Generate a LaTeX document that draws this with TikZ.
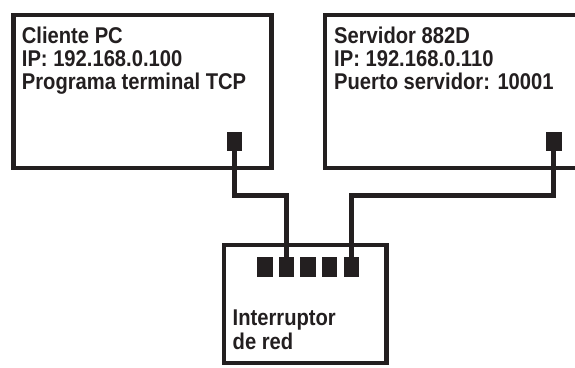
\documentclass[tikz,border=0pt]{standalone}
\usepackage{fontspec}
\setmainfont{Liberation Sans}[FakeStretch=0.885]
\definecolor{ink}{RGB}{35,31,32}
\begin{document}
\begin{tikzpicture}[x=1pt,y=-1pt,
  frame/.style={draw=ink, line width=4.8pt, inner sep=0pt, outer sep=0pt},
  portbox/.style={fill=ink, inner sep=0pt, outer sep=0pt, minimum width=15.5pt, minimum height=19.5pt},
  cable/.style={draw=ink, line width=4.8pt},
  lbl/.style={anchor=base west, inner sep=0pt, text=ink, font=\bfseries\fontsize{22.8}{27}\selectfont}]
\useasboundingbox (0,0) rectangle (575,367);
% client PC box
\node[frame, minimum width=258pt, minimum height=153pt] (pc) at (142.5,91.5) {};
\node[lbl] (pc1) at (21.7,43.3) {Cliente PC};
\node[lbl] (pc2) at (21.7,66.3) {IP: 192.168.0.100};
\node[lbl] (pc3) at (21.7,89.3) {Programa terminal TCP};
\node[portbox] (pcport) at (234.5,141.5) {};
% server box (cut by right edge)
\coordinate (srvTR) at (600,15);
\coordinate (srvBL) at (325,168);
\coordinate (srvBR) at (600,168);
\draw[cable] (srvTR) -| (srvBL) -- (srvBR);
\node[lbl] (srv1) at (334,43.3) {Servidor 882D};
\node[lbl] (srv2) at (334,66.3) {IP: 192.168.0.110};
\node[lbl] (srv3) at (334,89.3) {Puerto servidor: 10001};
\node[portbox, minimum width=16pt] (srvport) at (553.5,141.5) {};
% switch
\node[frame, minimum width=162.5pt, minimum height=118pt] (sw) at (305.25,304) {};
\foreach \i/\x in {1/265,2/286.5,3/308,4/329.5,5/351.5}
  \node[portbox, minimum height=20pt] (sw\i) at (\x,267) {};
\node[lbl] (sw1t) at (232.5,325) {Interruptor};
\node[lbl] (sw2t) at (232.5,349.3) {de red};
% cables
\draw[cable] (pcport.south) -- ++(0,44) -| (sw2.north);
\draw[cable] (srvport.south) -- ++(0,44) -| (sw5.north);
\end{tikzpicture}
\end{document}
